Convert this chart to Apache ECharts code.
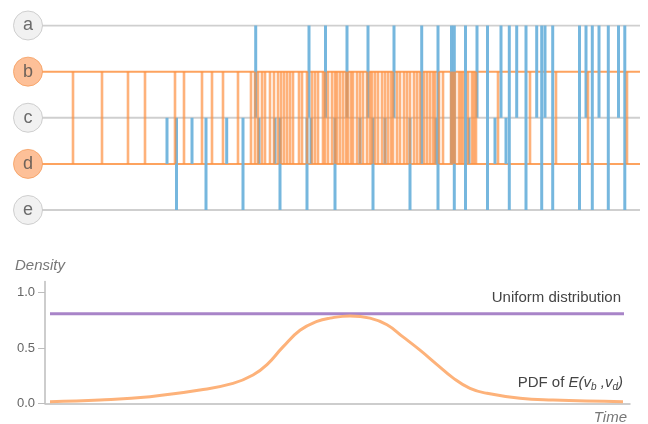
<!DOCTYPE html>
<html><head><meta charset="utf-8">
<script src="https://cdn.jsdelivr.net/npm/echarts@6/dist/echarts.min.js"></script>
<style>html,body{margin:0;padding:0;background:#fff}#c{width:648px;height:424px}</style>
</head><body><div id="c"></div>
<script>
// Nodes (rows of the event chart)
const nodes = ['a', 'b', 'c', 'd', 'e'];
const highlightedNodes = ['b', 'd'];
// Times of events between b and d (orange)
const orangeTimes = [33, 62, 88, 105, 135, 144, 162, 172, 183, 198, 211, 215, 218, 222, 225, 230, 234, 238, 241, 244, 247, 250, 253, 259, 262, 267, 272, 275, 278, 283, 285, 288, 292, 295, 297, 300, 303, 306, 308, 311, 313, 317, 320, 323, 327, 330, 332, 335, 338, 342, 345, 348, 351, 353, 357, 360, 364, 367, 370, 374, 377, 380, 384, 387, 390, 393, 395, 399, 403, 411, 413, 415, 419, 421, 423, 428, 432, 434, 436, 458, 490, 516, 548, 587];
// Other events: [time, from, to] (blue)
const blueEvents = [
  [127, 'c', 'd'], [136.5, 'c', 'e'], [152, 'c', 'd'], [166, 'c', 'e'], [186.7, 'c', 'd'],
  [203, 'c', 'e'], [215.7, 'a', 'c'], [219, 'c', 'd'], [235, 'c', 'd'], [240, 'c', 'e'],
  [267, 'c', 'e'], [269, 'a', 'c'], [271, 'c', 'd'], [285.5, 'a', 'c'], [295, 'c', 'e'],
  [307, 'a', 'c'], [320, 'c', 'd'], [328, 'a', 'c'], [333, 'c', 'e'], [345, 'c', 'd'],
  [354, 'a', 'c'], [370, 'c', 'e'], [381.7, 'a', 'd'], [396, 'c', 'd'], [398, 'a', 'e'],
  [411.5, 'a', 'd'], [414.3, 'a', 'e'], [425.5, 'a', 'e'], [429, 'c', 'd'], [437, 'a', 'c'],
  [447.5, 'a', 'e'], [455, 'c', 'd'], [461, 'a', 'c'], [466, 'c', 'd'], [469.3, 'a', 'e'],
  [476.7, 'a', 'c'], [486, 'a', 'e'], [496.7, 'a', 'c'], [501.7, 'a', 'e'], [505, 'a', 'c'],
  [512.7, 'a', 'e'], [539.5, 'a', 'e'], [546, 'a', 'c'], [552.3, 'a', 'e'], [559, 'a', 'c'],
  [568.3, 'a', 'e'], [578.5, 'a', 'c'], [584.8, 'a', 'e']
];
const timeStart = 2, timeEnd = 600;
// Density plot
const densityX = [10, 60, 110, 160, 193, 213, 227, 243, 260, 277, 290, 310, 330, 347, 363, 380, 397, 413, 430, 447, 480, 513, 583];
const densityY = [0.015, 0.03, 0.06, 0.12, 0.18, 0.256, 0.35, 0.51, 0.66, 0.74, 0.77, 0.79, 0.77, 0.71, 0.60, 0.48, 0.35, 0.23, 0.135, 0.09, 0.045, 0.03, 0.015];
const uniformX = [10, 584];
const uniformValue = 0.81;
const densityTicks = [0, 0.5, 1.0];

const idx = n => nodes.indexOf(n);
const ORANGE = '#fda35f';
const GRAY = '#cfcfcf';

const series = [];
// horizontal node lines
nodes.forEach((n, i) => {
  const hl = highlightedNodes.includes(n);
  series.push({
    type: 'line', xAxisIndex: 0, yAxisIndex: 0, symbol: 'none', silent: true,
    z: hl ? 3 : 1,
    data: [[timeStart, i], [timeEnd, i]],
    lineStyle: { color: hl ? ORANGE : GRAY, width: 2 }
  });
});
function seg(color, width, opacity) {
  return function (params, api) {
    const p1 = api.coord([api.value(0), api.value(1)]);
    const p2 = api.coord([api.value(0), api.value(2)]);
    return { type: 'line', shape: { x1: p1[0], y1: p1[1], x2: p2[0], y2: p2[1] },
      style: { stroke: color, lineWidth: width, opacity: opacity } };
  };
}
series.push({
  type: 'custom', xAxisIndex: 0, yAxisIndex: 0, z: 4, silent: true,
  encode: { x: 0, y: [1, 2] },
  data: blueEvents.map(e => [e[0], idx(e[1]), idx(e[2])]),
  renderItem: seg('#6fb3dc', 3, 0.95)
});
series.push({
  type: 'custom', xAxisIndex: 0, yAxisIndex: 0, z: 5, silent: true,
  encode: { x: 0, y: [1, 2] },
  data: orangeTimes.map(t => [t, idx('b'), idx('d')]),
  renderItem: seg('#fd8d3c', 2.6, 0.68)
});
// node circles
series.push({
  type: 'scatter', xAxisIndex: 0, yAxisIndex: 0, z: 10, silent: true,
  symbolSize: 29,
  data: nodes.map((n, i) => {
    const hl = highlightedNodes.includes(n);
    return { value: [-12, i], name: n,
      itemStyle: { color: hl ? '#fdb07e' : '#eeeeee', borderColor: hl ? '#f59d5e' : '#c4c4c4', borderWidth: 1 } };
  }),
  label: { show: true, position: 'inside', formatter: p => p.name, fontSize: 18, color: '#4a4a4a', fontFamily: 'Liberation Sans, Arial, sans-serif' }
});
// density
series.push({
  type: 'line', xAxisIndex: 1, yAxisIndex: 1, symbol: 'none', silent: true,
  data: uniformX.map(x => [x, uniformValue]),
  lineStyle: { color: '#a884c8', width: 3 }
});
series.push({
  type: 'line', xAxisIndex: 1, yAxisIndex: 1, symbol: 'none', silent: true, smooth: 0.45,
  data: densityX.map((x, i) => [x, densityY[i]]),
  lineStyle: { color: '#fdb27a', width: 3 }
});

const font = 'Liberation Sans, Arial, sans-serif';
const chart = echarts.init(document.getElementById('c'));
chart.setOption({
  animation: false,
  backgroundColor: '#fff',
  grid: [
    { left: 0, right: 8, top: 25.5, height: 184.5 },
    { left: 45, right: 18, top: 281.6, bottom: 20.7 }
  ],
  xAxis: [
    { gridIndex: 0, type: 'value', min: -40, max: 600, show: false },
    { gridIndex: 1, type: 'value', min: 5, max: 590,
      axisLine: { show: true, lineStyle: { color: '#bdbdbd', width: 1.5 } },
      axisTick: { show: false }, axisLabel: { show: false }, splitLine: { show: false } }
  ],
  yAxis: [
    { gridIndex: 0, type: 'value', min: 0, max: 4, inverse: true, show: false },
    { gridIndex: 1, type: 'value', min: 0, max: 1.1,
      axisLine: { show: true, lineStyle: { color: '#bdbdbd', width: 1.5 } },
      axisTick: { show: true, length: 7, customValues: densityTicks, lineStyle: { color: '#bdbdbd' } },
      axisLabel: { customValues: densityTicks, formatter: v => v.toFixed(1), color: '#666', fontSize: 13, margin: 10, fontFamily: font },
      splitLine: { show: false } }
  ],
  graphic: [
    { type: 'text', x: 15, y: 266, style: { text: 'Density', font: 'italic 15px ' + font, fill: '#777', verticalAlign: 'middle' } },
    { type: 'text', x: 627, y: 418, style: { text: 'Time', font: 'italic 15px ' + font, fill: '#777', align: 'right', verticalAlign: 'middle' } },
    { type: 'text', x: 621, y: 298, style: { text: 'Uniform distribution', font: '15px ' + font, fill: '#444', align: 'right', verticalAlign: 'middle' } },
    { type: 'text', x: 623, y: 383, style: {
      text: '{n|PDF of }{i|E(v}{s|b}{i| ,v}{s|d}{i|)}',
      align: 'right', verticalAlign: 'middle',
      rich: {
        n: { font: '15px ' + font, fill: '#444', lineHeight: 18 },
        i: { font: 'italic 15px ' + font, fill: '#444', lineHeight: 18 },
        s: { font: 'italic 10px ' + font, fill: '#444', lineHeight: 10, verticalAlign: 'bottom' }
      } } }
  ],
  series: series
});
</script></body></html>
